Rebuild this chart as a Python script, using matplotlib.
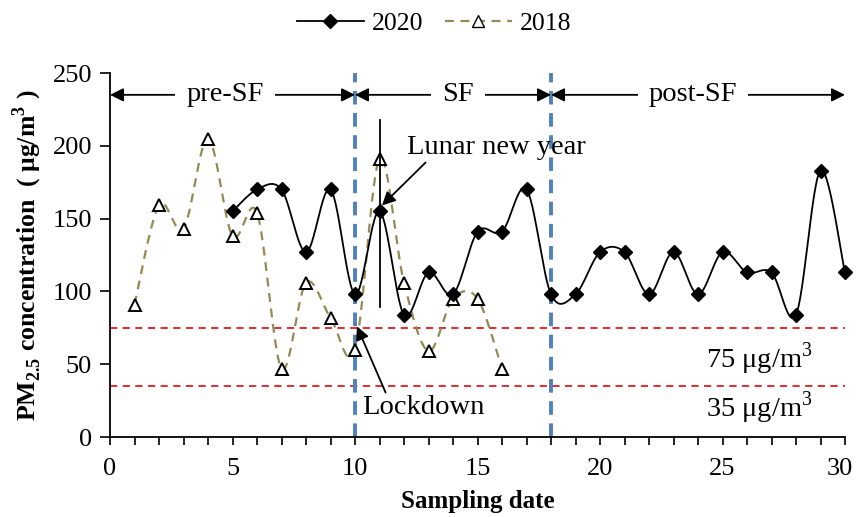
import numpy as np
import matplotlib
matplotlib.use("Agg")
import matplotlib.pyplot as plt
import matplotlib.transforms as mtransforms
from matplotlib.lines import Line2D
from matplotlib.ticker import MultipleLocator

plt.rcParams['font.family'] = ['Liberation Serif', 'DejaVu Serif']
plt.rcParams['mathtext.fontset'] = 'custom'
plt.rcParams['mathtext.rm'] = 'Liberation Serif'
plt.rcParams['mathtext.bf'] = 'Liberation Serif:bold'

x2020 = list(range(5, 31))
y2020 = [155, 170, 170, 127, 170, 98, 155, 84, 113, 98, 141, 141, 170, 98,
         98, 127, 127, 98, 127, 98, 127, 113, 113, 84, 183, 113]
x2018 = list(range(1, 17))
y2018 = [91, 159, 143, 205, 138, 154, 47, 106, 82, 60, 191, 106, 59, 95, 95, 47]
thresholds = [75, 35]
threshold_labels = [r'75 μg/m$^3$', r'35 μg/m$^3$']
periods = [(0, 10, 4.7, 'pre-SF'), (10, 18, 14.2, 'SF'), (18, 30, 23.8, 'post-SF')]


def smooth(xs, ys, n=30):
    # Catmull-Rom style smoothing (as in spreadsheet "smoothed line")
    xs = np.asarray(xs, float); ys = np.asarray(ys, float)
    P = np.column_stack([xs, ys])
    out = []
    for i in range(len(P) - 1):
        p0 = P[i - 1] if i > 0 else P[i]
        p1 = P[i]; p2 = P[i + 1]
        p3 = P[i + 2] if i + 2 < len(P) else P[i + 1]
        c1 = p1 + (p2 - p0) / 6
        c2 = p2 - (p3 - p1) / 6
        t = np.linspace(0, 1, n)[:, None]
        seg = (1 - t) ** 3 * p1 + 3 * (1 - t) ** 2 * t * c1 + 3 * (1 - t) * t ** 2 * c2 + t ** 3 * p2
        out.append(seg if i == 0 else seg[1:])
    s = np.vstack(out)
    return s[:, 0], s[:, 1]


fig = plt.figure(figsize=(8.56, 5.17), dpi=100)
ax = fig.add_axes([110 / 856, (517 - 437) / 517, 735 / 856, 364 / 517])

for th in thresholds:
    ax.axhline(th, color='#e8191e', ls=(0, (4, 3)), lw=1.3, zorder=1)

for xv in (10, 18):
    ax.axvline(xv, color='#4f81bd', ls=(0, (3.5, 2.2)), lw=2.8, zorder=2)

sx, sy = smooth(x2018, y2018)
ax.plot(sx, sy, color='#948a54', ls=(0, (4, 3)), lw=1.6, zorder=3)
ax.plot(x2018, y2018, ls='none', marker='^', ms=9, mfc='white', mec='black', mew=1.4, zorder=4)

sx, sy = smooth(x2020, y2020)
ax.plot(sx, sy, color='black', lw=1.3, zorder=5)
ax.plot(x2020, y2020, ls='none', marker='D', ms=7, color='black', zorder=6, clip_on=False)

# vertical marker line at Lunar new year
ax.plot([11, 11], [218, 89], color='black', lw=1.3, zorder=5)

# period arrows
for a, b, c, lab in periods:
    ax.annotate('', xy=(a, 235), xytext=(b, 235),
                arrowprops=dict(arrowstyle='<|-|>', color='black', lw=1.3,
                                shrinkA=0, shrinkB=0, mutation_scale=20), zorder=7,
                annotation_clip=False)
    ax.text(c, 235, lab, ha='center', va='center', fontsize=20.5,
            bbox=dict(fc='white', ec='none', pad=8), zorder=8)

ax.annotate('Lunar new year', xy=(11.1, 159), xytext=(12.12, 199), fontsize=20.5,
            ha='left', va='center',
            arrowprops=dict(arrowstyle='-|>', color='black', lw=1.3, mutation_scale=20,
                            shrinkA=0, shrinkB=0, relpos=(0.12, 0.0)), zorder=9)
ax.annotate('Lockdown', xy=(10.08, 76), xytext=(10.3, 20), fontsize=20.5,
            ha='left', va='center',
            arrowprops=dict(arrowstyle='-|>', color='black', lw=1.3, mutation_scale=20,
                            shrinkA=0, shrinkB=0, relpos=(0.2, 1.0)), zorder=9)

ax.text(26.5, 54, threshold_labels[0], fontsize=20.5, ha='center', va='center')
ax.text(26.5, 20, threshold_labels[1], fontsize=20.5, ha='center', va='center')

ax.set_xlim(0, 30)
ax.set_ylim(0, 250)
ax.set_xticks(range(0, 31, 5))
ax.xaxis.set_minor_locator(MultipleLocator(1))
ax.set_yticks(range(0, 251, 50))
ax.tick_params(axis='both', which='both', labelsize=19, direction='out', width=1.2)
ax.tick_params(axis='x', which='both', length=6, pad=9)
ax.tick_params(axis='y', length=7, pad=6)
for s in ('top', 'right'):
    ax.spines[s].set_visible(False)
for s in ('left', 'bottom'):
    ax.spines[s].set_linewidth(1.3)

# nudge the last x tick label so it stays inside the canvas
last = ax.get_xticklabels()[-1]
last.set_transform(last.get_transform() + mtransforms.ScaledTranslation(-5 / 100, 0, fig.dpi_scale_trans))

ax.set_xlabel('Sampling date', fontsize=18, fontweight='bold', labelpad=7)
ax.set_ylabel(r'PM$_{\mathbf{2.5}}$ concentration  ( μg/m$^{\mathbf{3}}$ )', fontsize=18.5,
              fontweight='bold', labelpad=6)

handles = [Line2D([], [], color='black', lw=1.3, marker='D', ms=7),
           Line2D([], [], color='#948a54', ls=(0, (4, 3)), lw=1.6, marker='^', ms=9,
                  mfc='white', mec='black')]
fig.legend(handles, ['2020', '2018'], loc='center', bbox_to_anchor=(434 / 856, 1 - 24 / 517),
           ncol=2, frameon=False, fontsize=18.5, handlelength=2.6, columnspacing=0.85,
           handletextpad=0.3)

fig.savefig('out.png', dpi=100)
